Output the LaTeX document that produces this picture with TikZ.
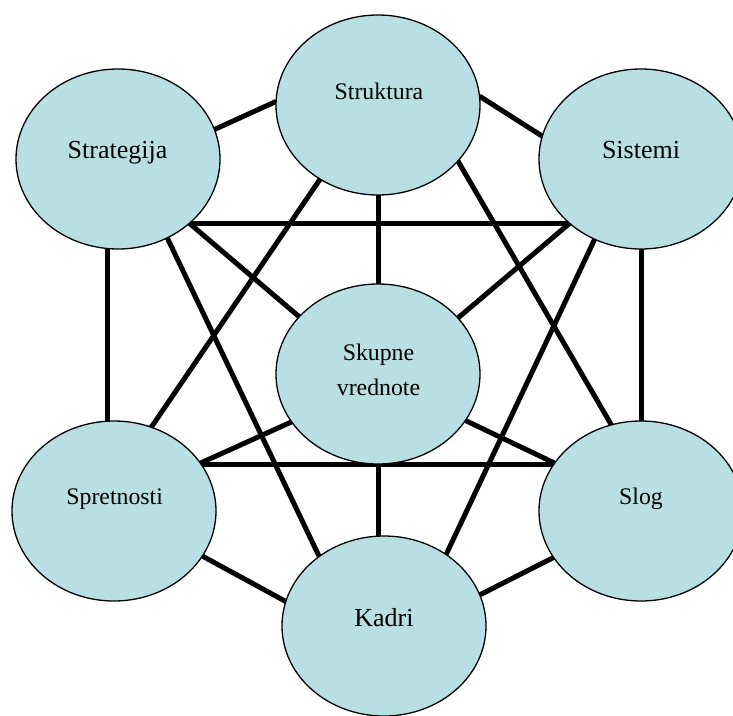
\documentclass[tikz,border=0pt]{standalone}
\usepackage{fontspec}
\setmainfont{Liberation Serif}
\usetikzlibrary{shapes.geometric}
\pgfdeclarelayer{bg}
\pgfsetlayers{bg,main}
\definecolor{fillblue}{RGB}{184,223,227}
\begin{document}
\begin{tikzpicture}[x=1pt,y=-1pt,
  oval/.style={ellipse, draw=black, line width=1.3pt, fill=fillblue,
    minimum width=204pt, minimum height=180pt, inner sep=0pt, outer sep=0pt},
  link/.style={line width=5pt, black},
  bigtxt/.style={font=\fontsize{26}{30}\selectfont, anchor=base, inner sep=0pt},
  smalltxt/.style={font=\fontsize{23.8}{28}\selectfont, anchor=base, inner sep=0pt}]
\useasboundingbox (0,0) rectangle (733,715);
% ellipses
\node[oval] (strat)  at (118,159) {};
\node[oval] (strukt) at (378,105) {};
\node[oval] (sist)   at (641,159) {};
\node[oval] (skup)   at (378,374) {};
\node[oval] (spret)  at (114,511) {};
\node[oval] (slog)   at (641,511) {};
\node[oval] (kadri)  at (384,626) {};
% labels
\node[bigtxt]   (tstrat)  at (117.5,158) {Strategija};
\node[smalltxt] (tstrukt) at (379,99)    {Struktura};
\node[bigtxt]   (tsist)   at (641,158)   {Sistemi};
\node[smalltxt] (tskup1)  at (378.5,360) {Skupne};
\node[smalltxt] (tskup2)  at (378.5,395) {vrednote};
\node[smalltxt] (tspret)  at (114.7,504) {Spretnosti};
\node[smalltxt] (tslog)   at (641,504)   {Slog};
\node[bigtxt]   (tkadri)  at (384,626)   {Kadri};
% connectors
\begin{pgfonlayer}{bg}
\draw[link] (strat.17.6)   -- (strukt.178);
\draw[link] (strukt.5)     -- (sist.167.7);
\draw[link] (strat.-42)    -- (strat.-42 -| sist.-138);
\draw[link] (strukt.-90)   -- (skup.90);
\draw[link] (strukt.-128)  -- (spret.66);
\draw[link] (strukt.-35)   -- (slog.109);
\draw[link] (strat.-42)    -- (skup.144.7);
\draw[link] (strat.-58)    -- (kadri.133.7);
\draw[link] (strat.-97)    -- (strat.-97 |- spret.94.5);
\draw[link] (sist.-138)    -- (skup.35.3);
\draw[link] (sist.-120.4)  -- (kadri.49);
\draw[link] (sist.-90)     -- (slog.90);
\draw[link] (skup.-151.4)  -- (spret.29);
\draw[link] (skup.-28.9)   -- (slog.151);
\draw[link] (spret.28)     -- (spret.28 -| slog.152);
\draw[link] (skup.-90)     -- (skup.-90 |- kadri.94);
\draw[link] (spret.-27.6)  -- (kadri.166.7);
\draw[link] (slog.-152.1)  -- (kadri.18);
\end{pgfonlayer}
\end{tikzpicture}
\end{document}
